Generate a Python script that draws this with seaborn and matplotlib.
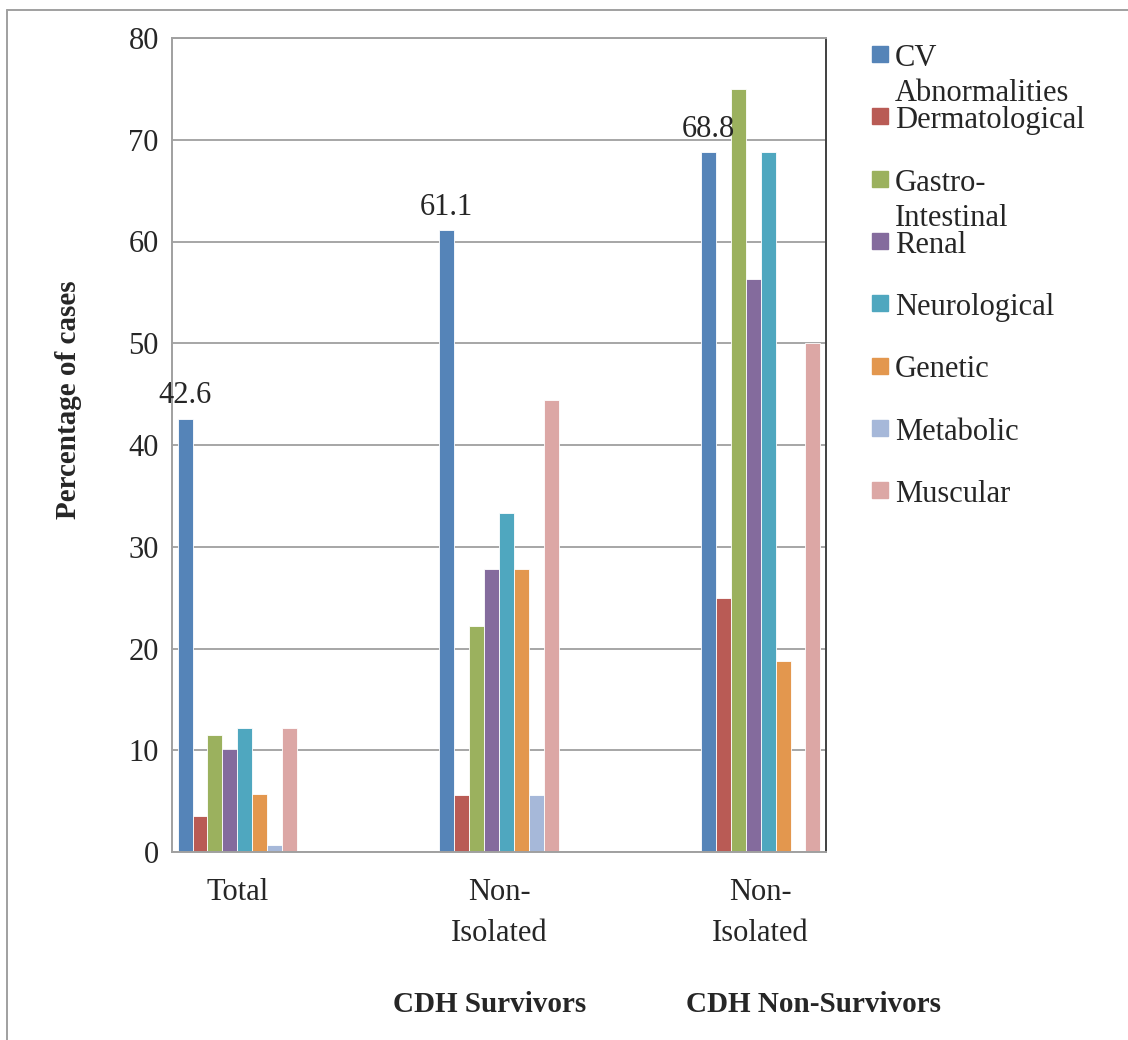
import matplotlib
matplotlib.use("Agg")
import matplotlib.pyplot as plt
import seaborn as sns
import pandas as pd
from matplotlib.patches import Rectangle
from matplotlib.lines import Line2D

# data
groups = ["Total", "Non-Isolated (S)", "Non-Isolated (NS)"]
slots = ["Total", "gap1", "Non-Isolated (S)", "gap2", "Non-Isolated (NS)"]
tick_labels = ["Total", "Non-\nIsolated", "Non-\nIsolated"]
systems = ["CV Abnormalities", "Dermatological", "Gastro-Intestinal", "Renal",
           "Neurological", "Genetic", "Metabolic", "Muscular"]
legend_labels = ["CV\nAbnormalities", "Dermatological", "Gastro-\nIntestinal", "Renal",
                 "Neurological", "Genetic", "Metabolic", "Muscular"]
total = [42.6, 3.5, 11.5, 10.1, 12.2, 5.7, 0.7, 12.2]
surv_noniso = [61.1, 5.6, 22.2, 27.8, 33.3, 27.8, 5.6, 44.4]
nonsurv_noniso = [68.8, 25.0, 75.0, 56.3, 68.8, 18.8, 0.0, 50.0]
colors = ["#5584B8", "#B95B55", "#9BB15E", "#846B9D",
          "#4FA7BF", "#E3974E", "#A6B8D9", "#DCA7A5"]

rows = []
for g, vals in zip(groups, [total, surv_noniso, nonsurv_noniso]):
    for s, v in zip(systems, vals):
        rows.append({"group": g, "system": s, "pct": v})
df = pd.DataFrame(rows)

sns.set_style("white")
plt.rcParams["font.family"] = ["Liberation Serif", "DejaVu Serif"]

W, H = 1128, 1040
fig = plt.figure(figsize=(W / 100, H / 100), dpi=100)
ax = fig.add_axes([172 / W, 1 - 852 / H, (826 - 172) / W, (852 - 38) / H])

sns.barplot(data=df, x="group", y="pct", hue="system", order=slots,
            hue_order=systems, palette=colors, width=0.915, saturation=1,
            edgecolor="white", linewidth=0.6, legend=False, ax=ax)

ax.set_ylim(0, 80)
ax.set_xlim(-0.5, 4.5)
ax.set_yticks(range(0, 81, 10))
ax.yaxis.grid(True, color="#a6a6a6", lw=1.4)
ax.set_axisbelow(True)
ax.set_xlabel("")
ax.set_ylabel("")

grey = "#a0a0a0"
for side in ["left", "bottom", "top"]:
    ax.spines[side].set_color(grey)
    ax.spines[side].set_linewidth(1.4)
ax.spines["right"].set_color("#404040")
ax.spines["right"].set_linewidth(1.4)

ax.tick_params(axis="y", length=6.5, width=1.4, color=grey, labelsize=22, pad=3)
ax.set_xticks([0, 2, 4])
ax.set_xticklabels(tick_labels, fontsize=22, linespacing=1.55)
ax.set_xticks([-0.5, 0.5, 1.5, 2.5, 3.5, 4.5], minor=True)
ax.tick_params(axis="x", which="major", length=0, pad=19)
ax.tick_params(axis="x", which="minor", length=6.5, width=1.4, color=grey)

# value labels on CV bars
ax.bar_label(ax.containers[0], fmt="%.1f", padding=6, fontsize=22)

# axis titles
fig.text(68 / W, 1 - 400 / H, "Percentage of cases", rotation=90, ha="center",
         va="center", fontsize=21, fontweight="bold")
fig.text(490 / W, 1 - 1005 / H, "CDH Survivors", ha="center", va="center",
         fontsize=21, fontweight="bold")
fig.text(813 / W, 1 - 1005 / H, "CDH Non-Survivors", ha="center", va="center",
         fontsize=21, fontweight="bold")

# legend
for i, (lab, c) in enumerate(zip(legend_labels, colors)):
    top = 46 + i * 62.3
    fig.add_artist(Rectangle((872 / W, 1 - (top + 16) / H), 16 / W, 16 / H,
                             transform=fig.transFigure, color=c))
    for k, line in enumerate(lab.split("\n")):
        fig.text(895 / W, 1 - (top + 20 + k * 35) / H, line, ha="left",
                 va="baseline", fontsize=22)

# outer border
fig.add_artist(Line2D([7 / W, 1], [1 - 10 / H, 1 - 10 / H], transform=fig.transFigure,
                      color="#a0a0a0", lw=1.4))
fig.add_artist(Line2D([7 / W, 7 / W], [0, 1 - 10 / H], transform=fig.transFigure,
                      color="#a0a0a0", lw=1.4))

fig.savefig("out.png", dpi=100, facecolor="white")
